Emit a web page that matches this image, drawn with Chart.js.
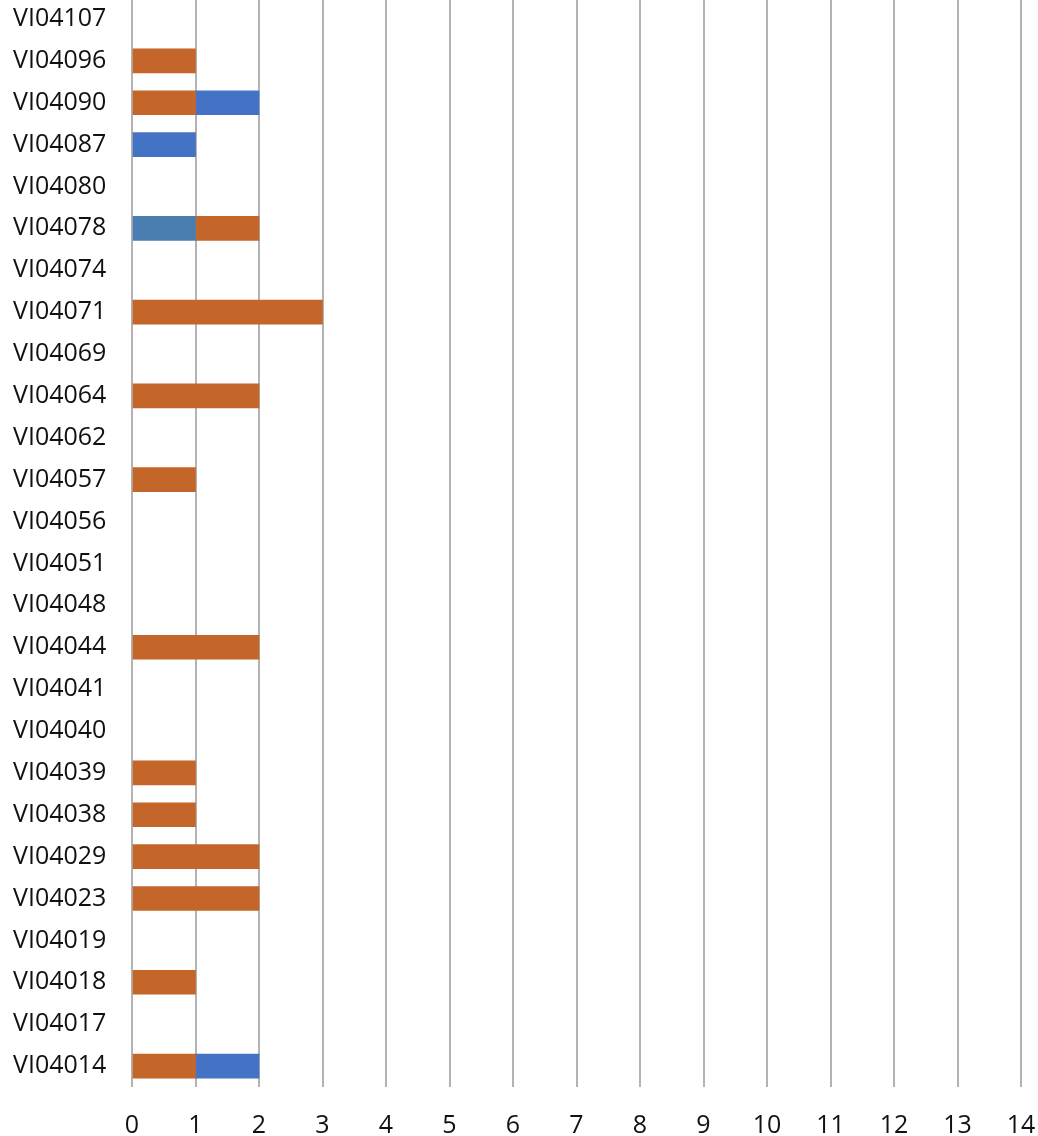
<!DOCTYPE html>
<html>
<head>
<meta charset="utf-8">
<script src="https://cdn.jsdelivr.net/npm/chart.js@4.4.1/dist/chart.umd.min.js"></script>
<style>
  html, body { margin: 0; padding: 0; background: #fff; overflow: hidden; }
  #wrap { position: absolute; left: 0; top: -2px; width: 1038px; height: 1138px; }
</style>
</head>
<body>
<div id="wrap"><canvas id="myChart"></canvas></div>
<script>
// categories, top to bottom as drawn
const categories = [
  'VI04107', 'VI04096', 'VI04090', 'VI04087', 'VI04080', 'VI04078', 'VI04074',
  'VI04071', 'VI04069', 'VI04064', 'VI04062', 'VI04057', 'VI04056', 'VI04051',
  'VI04048', 'VI04044', 'VI04041', 'VI04040', 'VI04039', 'VI04038', 'VI04029',
  'VI04023', 'VI04019', 'VI04018', 'VI04017', 'VI04014'
];
// first stacked segment (steel blue)
const seriesA = [0, 0, 0, 0, 0, 1, 0, 0, 0, 0, 0, 0, 0, 0, 0, 0, 0, 0, 0, 0, 0, 0, 0, 0, 0, 0];
// orange segment
const seriesB = [0, 1, 1, 0, 0, 1, 0, 3, 0, 2, 0, 1, 0, 0, 0, 2, 0, 0, 1, 1, 2, 2, 0, 1, 0, 1];
// blue segment
const seriesC = [0, 0, 1, 1, 0, 0, 0, 0, 0, 0, 0, 0, 0, 0, 0, 0, 0, 0, 0, 0, 0, 0, 0, 0, 0, 1];
const xTicks = [0, 1, 2, 3, 4, 5, 6, 7, 8, 9, 10, 11, 12, 13, 14];

const font = { family: '"Open Sans", sans-serif', size: 25 };
// zero values draw nothing
const noZero = (arr) => arr.map((v) => (v === 0 ? null : v));

const ctx = document.getElementById('myChart').getContext('2d');
const chart = new Chart(ctx, {
  type: 'bar',
  data: {
    labels: categories,
    datasets: [
      { label: 'A', data: noZero(seriesA), backgroundColor: '#4A7EB1' },
      { label: 'B', data: noZero(seriesB), backgroundColor: '#C4652A' },
      { label: 'C', data: noZero(seriesC), backgroundColor: '#4472C4' },
    ],
  },
  options: {
    indexAxis: 'y',
    responsive: true,
    maintainAspectRatio: false,
    animation: false,
    layout: { padding: { left: 13, right: 17, top: 0, bottom: 0 } },
    datasets: { bar: { barThickness: 24 } },
    plugins: { legend: { display: false }, tooltip: { enabled: false } },
    scales: {
      x: {
        stacked: true,
        min: 0,
        max: 14,
        afterBuildTicks: (s) => { s.ticks = xTicks.map((v) => ({ value: v })); },
        afterFit: (s) => {
          s.height = 49;
          s.paddingLeft = 0;
          s.paddingRight = 0;
        },
        grid: { color: '#b3b3b3', lineWidth: 2, drawTicks: false },
        border: { display: false },
        ticks: { color: '#111', font: font, padding: 24 },
      },
      y: {
        stacked: true,
        afterFit: (s) => {
          s.width = 119;
          s.paddingTop = 0;
          s.paddingBottom = 0;
        },
        grid: { display: false },
        border: { display: false },
        ticks: { color: '#111', font: font, crossAlign: 'far', autoSkip: false, padding: 2 },
      },
    },
  },
});
</script>
</body>
</html>
